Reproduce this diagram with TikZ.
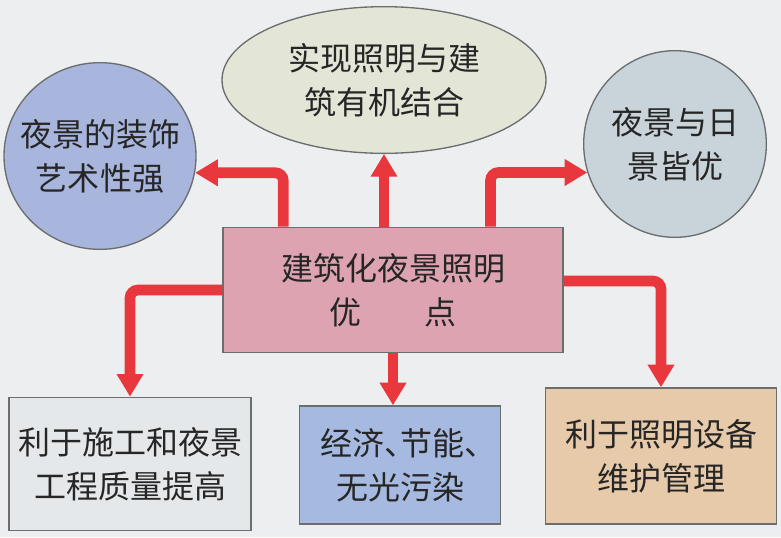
\documentclass[tikz,border=0pt]{standalone}
\usepackage{fontspec}
\newfontfamily\cjk{Noto Sans CJK SC}
\usepackage{xcolor}
\usepackage{tikz}
\usetikzlibrary{arrows.meta}
\usetikzlibrary{shapes.geometric}

\definecolor{bgGray}{HTML}{ECEEF0}
\definecolor{edgeGray}{HTML}{6A6E6E}
\definecolor{arrowRed}{HTML}{E8383D}
\definecolor{topFill}{HTML}{E3E6D7}
\definecolor{leftFill}{HTML}{A8B5DC}
\definecolor{rightFill}{HTML}{C9D3DA}
\definecolor{pinkFill}{HTML}{DEA3B0}
\definecolor{paleFill}{HTML}{E4E8EA}
\definecolor{blueFill}{HTML}{A6B9E0}
\definecolor{tanFill}{HTML}{E6CAA9}

\newcommand{\halfdun}{\makebox[.5em][l]{、}}

\begin{document}
\begin{tikzpicture}[
    x=0.75pt, y=-0.75pt,
    >={Triangle[length=17pt,width=19pt]},
    every node/.style={font=\cjk\fontsize{24pt}{33pt}\selectfont, align=center, text=black!85},
    bubble/.style={ellipse, draw=edgeGray, line width=1pt, inner xsep=-25pt, inner ysep=0pt},
    box/.style={rectangle, draw=edgeGray, line width=1pt, inner sep=0pt},
    link/.style={->, draw=arrowRed, line width=8pt, rounded corners=6pt}
  ]

  % Background
  \fill[bgGray] (0,0) rectangle (781,537);

  % Nodes
  \node[bubble, fill=topFill, minimum width=243pt, minimum height=110pt] (union) at (384,80) {实现照明与建\\筑有机结合};
  \node[bubble, fill=leftFill, minimum width=144pt, minimum height=140pt] (art) at (100,156) {夜景的装饰\\艺术性强};
  \node[bubble, fill=rightFill, minimum width=137pt, minimum height=140pt] (day) at (675,144) {夜景与日\\景皆优};
  \node[box, fill=pinkFill, minimum width=255pt, minimum height=94pt] (core) at (393,290) {建筑化夜景照明\\优\hspace{2em}点};
  \node[box, fill=paleFill, minimum width=181.5pt, minimum height=100pt] (build) at (130,464) {利于施工和夜景\\工程质量提高};
  \node[box, fill=blueFill, minimum width=151pt, minimum height=88.5pt] (save) at (400,465) {经济\halfdun 节能\halfdun\\无光污染};
  \node[box, fill=tanFill, minimum width=173pt, minimum height=102pt] (care) at (661,456) {利于照明设备\\维护管理};

  % Edges
  \draw[link] (core.north -| union.south) -- (union.south);
  \draw[link] (core.150) |- (art.-10);
  \draw[link] (core.33) |- (day.198);
  \draw[link] (core.south) -- (core.south |- save.north);
  \draw[link] (core.west) -| (build.north);
  \draw[link] (core.3) -| (care.north);

\end{tikzpicture}
\end{document}
